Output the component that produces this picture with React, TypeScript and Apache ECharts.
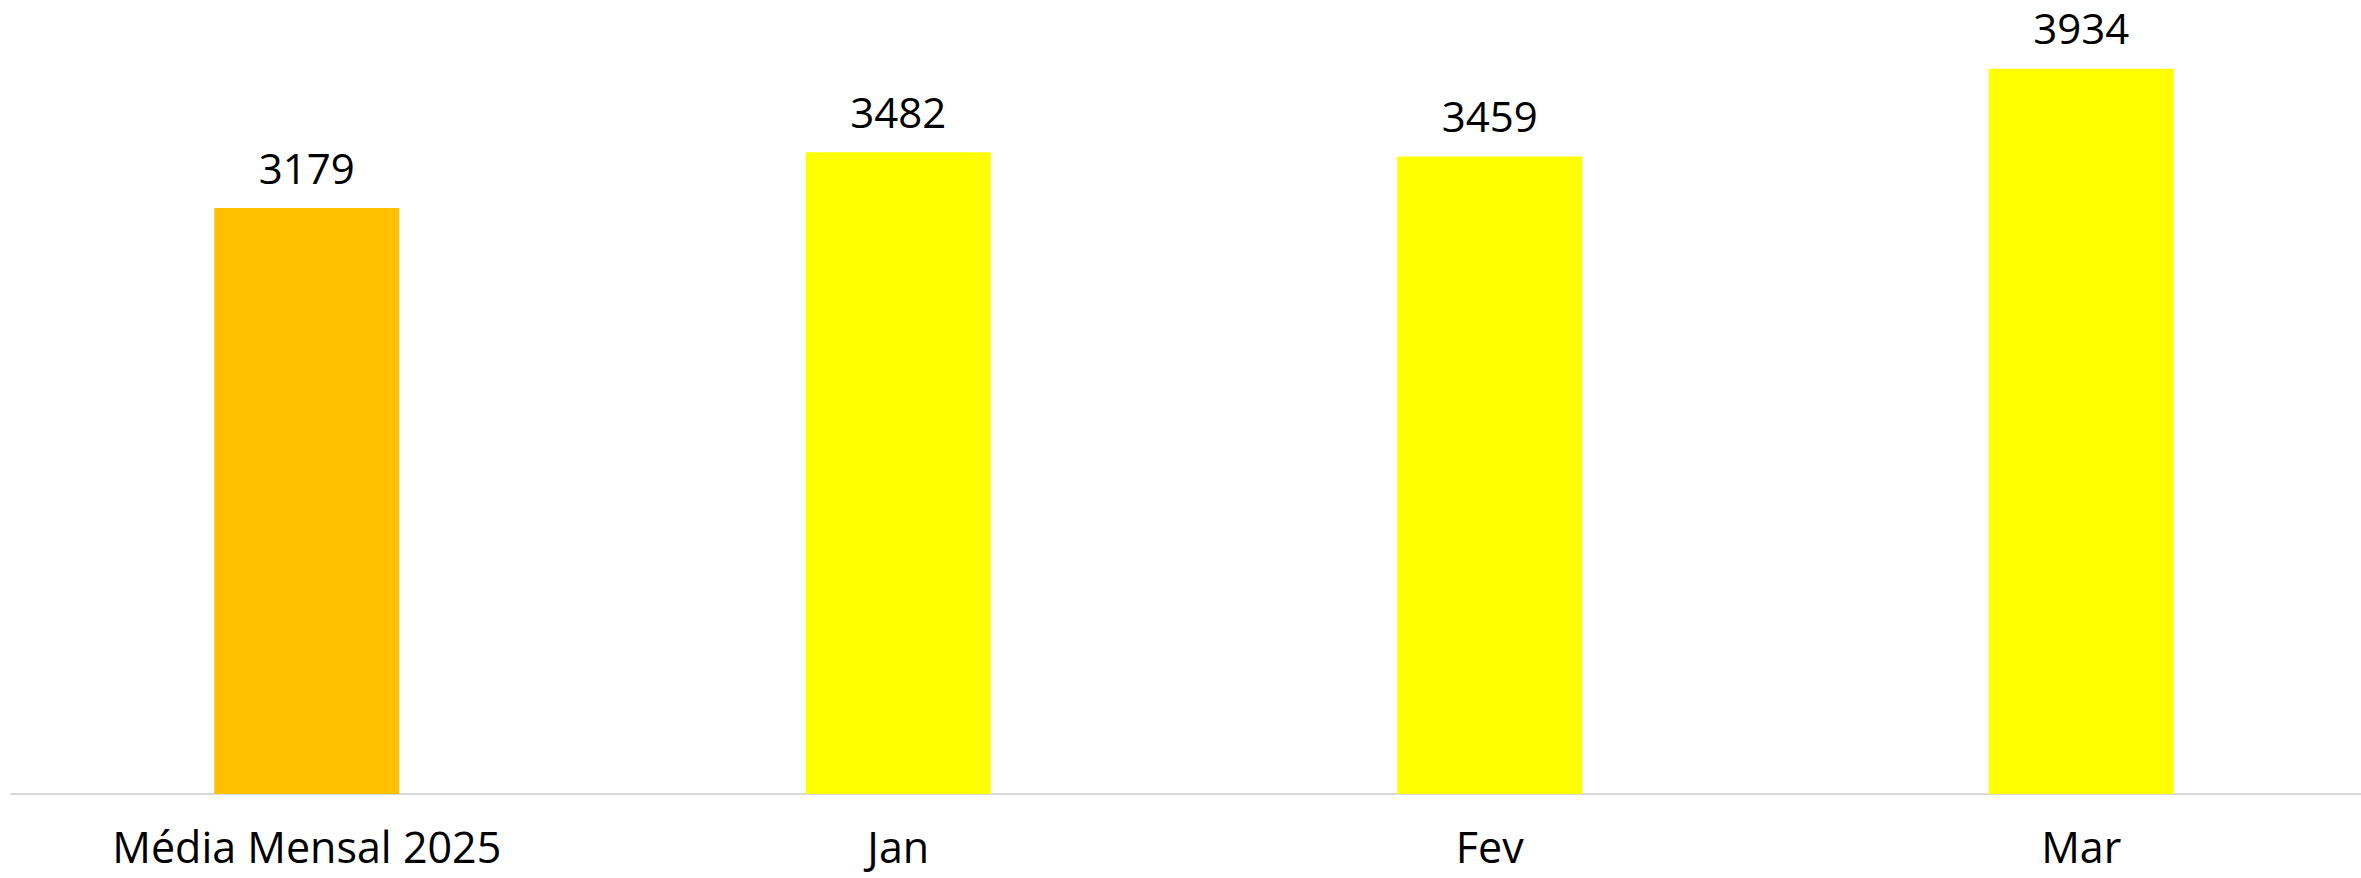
import React, { useEffect, useRef } from "react";
import * as echarts from "echarts";

const categories = ["Média Mensal 2025", "Jan", "Fev", "Mar"];
const values = [3179, 3482, 3459, 3934];
const barColors = ["#FFC000", "#FFFF00", "#FFFF00", "#FFFF00"];

export default function App() {
  const ref = useRef<HTMLDivElement>(null);
  useEffect(() => {
    if (!ref.current) return;
    const chart = echarts.init(ref.current, null, { renderer: "svg" });
    chart.setOption({
      animation: false,
      backgroundColor: "#ffffff",
      grid: { left: 11, right: 3, top: 56.7, bottom: 84, containLabel: false },
      xAxis: {
        type: "category",
        data: categories,
        axisLine: { show: true, lineStyle: { color: "#d9d9d9", width: 2 } },
        axisTick: { show: false },
        axisLabel: {
          color: "#000000",
          fontFamily: "Open Sans",
          fontSize: 43,
          lineHeight: 43,
          margin: 31,
          interval: 0,
        },
      },
      yAxis: {
        type: "value",
        min: 0,
        max: 4000,
        show: false,
        splitLine: { show: false },
      },
      series: [
        {
          type: "bar",
          barWidth: 185,
          data: values.map((v, i) => ({ value: v, itemStyle: { color: barColors[i] } })),
          label: {
            show: true,
            position: "top",
            distance: 20,
            color: "#000000",
            fontFamily: "Open Sans",
            fontSize: 42,
          },
        },
      ],
    });
    return () => chart.dispose();
  }, []);
  return (
    <div
      ref={ref}
      style={{ position: "fixed", left: 0, top: 0, width: 2380, height: 878 }}
    />
  );
}
